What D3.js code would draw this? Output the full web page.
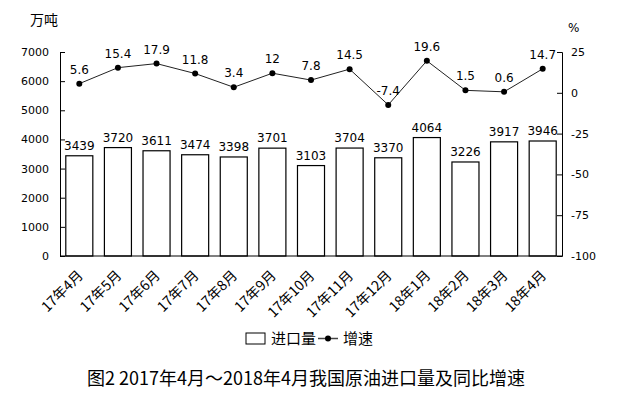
<!DOCTYPE html>
<html>
<head>
<meta charset="utf-8">
<script src="https://cdn.jsdelivr.net/npm/d3@7"></script>
<style>
body { margin: 0; background: #fff; }
svg text { fill: #000; }
</style>
</head>
<body>
<div id="chart"></div>
<script>
// data
var months = ["17年4月", "17年5月", "17年6月", "17年7月", "17年8月", "17年9月", "17年10月",
	"17年11月", "17年12月", "18年1月", "18年2月", "18年3月", "18年4月"];
var imports = [3439, 3720, 3611, 3474, 3398, 3701, 3103, 3704, 3370, 4064, 3226, 3917, 3946];
var growth = [5.6, 15.4, 17.9, 11.8, 3.4, 12, 7.8, 14.5, -7.4, 19.6, 1.5, 0.6, 14.7];
var leftTicks = [0, 1000, 2000, 3000, 4000, 5000, 6000, 7000];
var rightTicks = [-100, -75, -50, -25, 0, 25];

var width = 617, height = 397;
var margin = {top: 52, left: 60, right: 55, bottom: 141};
var w = width - margin.left - margin.right,
	h = height - margin.top - margin.bottom;

var numFont = "'DejaVu Sans', Verdana, sans-serif";
var cjkFont = "'Noto Sans CJK SC', 'DejaVu Sans', sans-serif";
var plain = function(d) { return String(d); };

var svg = d3.select("#chart").append("svg")
		.attr("width", width)
		.attr("height", height);

var g = svg.append("g")
		.attr("transform", "translate(" + margin.left + "," + margin.top + ")");

var x = d3.scaleBand()
		.domain(months)
		.range([0, w])
		.paddingInner(0.3)
		.paddingOuter(0.15);

var yLeft = d3.scaleLinear().domain([0, 7000]).range([h, 0]);
var yRight = d3.scaleLinear().domain([-100, 25]).range([h, 0]);

// axes
var leftAxis = g.append("g")
		.call(d3.axisLeft(yLeft).tickValues(leftTicks).tickFormat(plain).tickSize(-5).tickPadding(11));
var rightAxis = g.append("g")
		.attr("transform", "translate(" + w + ",0)")
		.call(d3.axisRight(yRight).tickValues(rightTicks).tickFormat(plain).tickSize(-5).tickPadding(9));

[leftAxis, rightAxis].forEach(function(a) {
	a.attr("font-family", null);
	a.select(".domain").attr("stroke", "#000");
	a.selectAll(".tick line").attr("stroke", "#000");
	a.selectAll("text").style("font-family", numFont).style("font-size", "11px");
});

// bars
g.selectAll("rect.bar")
	.data(imports)
	.enter().append("rect")
		.attr("class", "bar")
		.attr("x", function(d, i) { return x(months[i]); })
		.attr("y", function(d) { return yLeft(d); })
		.attr("width", x.bandwidth())
		.attr("height", function(d) { return h - yLeft(d); })
		.attr("fill", "#fff")
		.attr("stroke", "#000")
		.attr("stroke-width", 1.2);

g.selectAll("text.barlabel")
	.data(imports)
	.enter().append("text")
		.attr("x", function(d, i) { return x(months[i]) + x.bandwidth() / 2; })
		.attr("y", function(d) { return yLeft(d) - 6; })
		.attr("text-anchor", "middle")
		.style("font-family", numFont)
		.style("font-size", "12px")
		.text(function(d) { return d; });

// bottom line
g.append("line")
		.attr("x1", 0).attr("x2", w)
		.attr("y1", h).attr("y2", h)
		.attr("stroke", "#000");

// growth line
var line = d3.line()
		.x(function(d, i) { return x(months[i]) + x.bandwidth() / 2; })
		.y(function(d) { return yRight(d); });

g.append("path")
		.datum(growth)
		.attr("d", line)
		.attr("fill", "none")
		.attr("stroke", "#222")
		.attr("stroke-width", 1);

g.selectAll("circle.pt")
	.data(growth)
	.enter().append("circle")
		.attr("class", "pt")
		.attr("cx", function(d, i) { return x(months[i]) + x.bandwidth() / 2; })
		.attr("cy", function(d) { return yRight(d); })
		.attr("r", 3)
		.attr("fill", "#000");

g.selectAll("text.ptlabel")
	.data(growth)
	.enter().append("text")
		.attr("x", function(d, i) { return x(months[i]) + x.bandwidth() / 2; })
		.attr("y", function(d) { return yRight(d) - 10; })
		.attr("text-anchor", "middle")
		.style("font-family", numFont)
		.style("font-size", "12px")
		.text(function(d) { return d; });

// category labels
g.selectAll("text.cat")
	.data(months)
	.enter().append("text")
		.attr("transform", function(d) {
			return "translate(" + (x(d) + x.bandwidth() / 2 + 1) + "," + (h + 17) + ") rotate(-45)";
		})
		.attr("text-anchor", "end")
		.attr("dy", "0.35em")
		.style("font-family", cjkFont)
		.style("font-size", "14px")
		.text(function(d) { return d; });

// unit labels
svg.append("text")
		.attr("x", 30).attr("y", 25)
		.style("font-family", cjkFont)
		.style("font-size", "14px")
		.text("万吨");
svg.append("text")
		.attr("x", 568).attr("y", 32)
		.style("font-family", numFont)
		.style("font-size", "12px")
		.text("%");

// legend
var legend = svg.append("g").attr("transform", "translate(246,333)");
legend.append("rect")
		.attr("width", 19).attr("height", 11)
		.attr("fill", "#fff").attr("stroke", "#000");
legend.append("text")
		.attr("x", 25).attr("y", 11)
		.style("font-family", cjkFont).style("font-size", "15px")
		.text("进口量");
legend.append("line")
		.attr("x1", 72).attr("x2", 92).attr("y1", 5.5).attr("y2", 5.5)
		.attr("stroke", "#444").attr("stroke-width", 1.5);
legend.append("circle")
		.attr("cx", 82).attr("cy", 5.5).attr("r", 3).attr("fill", "#000");
legend.append("text")
		.attr("x", 97).attr("y", 11)
		.style("font-family", cjkFont).style("font-size", "15px")
		.text("增速");

// title
svg.append("text")
		.attr("x", 306).attr("y", 385)
		.attr("text-anchor", "middle")
		.style("font-family", cjkFont)
		.style("font-size", "18px")
		.text("图2 2017年4月～2018年4月我国原油进口量及同比增速");
</script>
</body>
</html>
